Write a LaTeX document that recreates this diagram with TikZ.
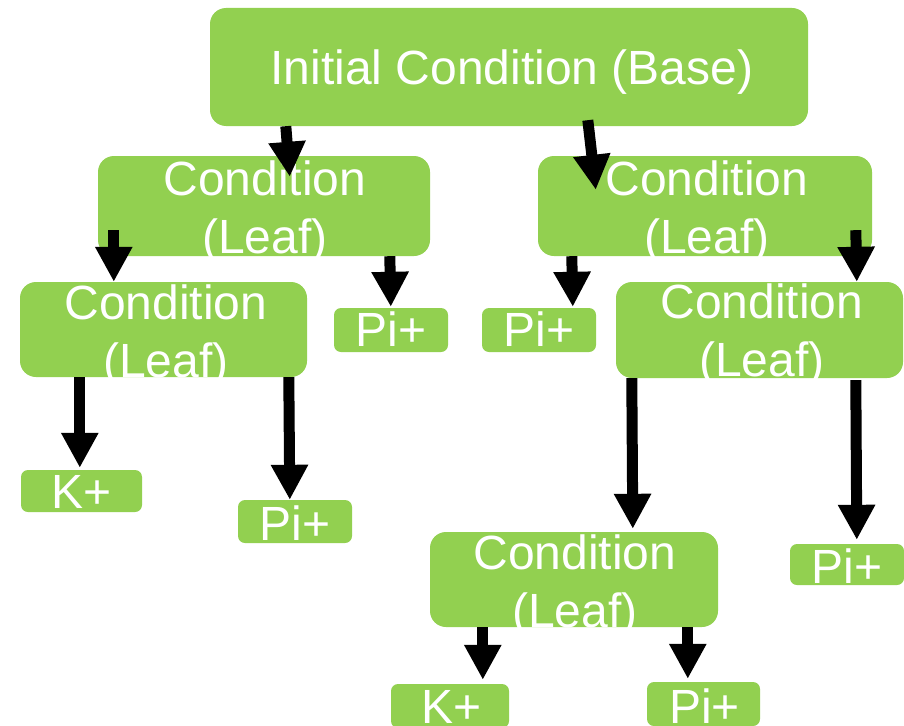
\documentclass[tikz,border=0pt]{standalone}
\usepackage{fontspec}
\setmainfont{Liberation Sans}
\usetikzlibrary{arrows.meta,calc}
\definecolor{leafgreen}{HTML}{92D050}
\begin{document}
\begin{tikzpicture}[x=1pt,y=-1pt,
  bigbox/.style={fill=leafgreen, draw=none, rounded corners=16pt, inner sep=0pt},
  smallbox/.style={fill=leafgreen, draw=none, rounded corners=7pt, inner sep=0pt},
  txt/.style={text=white, inner sep=0pt, anchor=base, font=\fontsize{48}{58}\selectfont},
  arr/.style={line width=11pt, -{Triangle[width=35pt,length=35pt]}, black}]
\useasboundingbox (0,0) rectangle (904,725);
% boxes
\node[bigbox, minimum width=598pt, minimum height=118pt] (base) at (509,67) {};
\node[bigbox, minimum width=332pt, minimum height=100pt] (L1) at (264,206) {};
\node[bigbox, minimum width=334pt, minimum height=100pt] (R1) at (705,206) {};
\node[bigbox, minimum width=287pt, minimum height=95pt] (L2) at (163.5,329.5) {};
\node[bigbox, minimum width=287pt, minimum height=96pt] (R2) at (759.5,330) {};
\node[bigbox, minimum width=288pt, minimum height=95pt] (R3) at (574,579.5) {};
\node[smallbox, minimum width=114pt, minimum height=44pt] (PiA) at (391,330) {};
\node[smallbox, minimum width=114pt, minimum height=44pt] (PiB) at (539,330) {};
\node[smallbox, minimum width=121pt, minimum height=42pt] (K1) at (81.5,491) {};
\node[smallbox, minimum width=114pt, minimum height=43pt] (Pi2) at (295,521.5) {};
\node[smallbox, minimum width=114pt, minimum height=41pt] (PiC) at (847,564.5) {};
\node[smallbox, minimum width=118pt, minimum height=44pt] (K2) at (450,706) {};
\node[smallbox, minimum width=113pt, minimum height=44pt] (Pi3) at (703.5,704) {};
% texts
\node[txt] (baset) at ($(base.north)+(3,77)$) {Initial Condition (Base)};
\node[txt] (L1a) at ($(L1.north)+(1,40)$) {Condition};
\node[txt] (L1b) at ($(L1.north)+(1,98)$) {(Leaf)};
\node[txt] (R1a) at ($(R1.north)+(2,40)$) {Condition};
\node[txt] (R1b) at ($(R1.north)+(2,98)$) {(Leaf)};
\node[txt] (L2a) at ($(L2.north)+(2.5,38)$) {Condition};
\node[txt] (L2b) at ($(L2.north)+(2.5,96)$) {(Leaf)};
\node[txt] (R2a) at ($(R2.north)+(2.5,37)$) {Condition};
\node[txt] (R2b) at ($(R2.north)+(2.5,95)$) {(Leaf)};
\node[txt] (R3a) at ($(R3.north)+(1,38)$) {Condition};
\node[txt] (R3b) at ($(R3.north)+(1,96)$) {(Leaf)};
\node[txt] (PiAt) at ($(PiA.north)+(0,39)$) {Pi+};
\node[txt] (PiBt) at ($(PiB.north)+(0,39)$) {Pi+};
\node[txt] (K1t) at ($(K1.north)+(0,39)$) {K+};
\node[txt] (Pi2t) at ($(Pi2.north)+(0,41)$) {Pi+};
\node[txt] (PiCt) at ($(PiC.north)+(0,40)$) {Pi+};
\node[txt] (K2t) at ($(K2.north)+(2,40)$) {K+};
\node[txt] (Pi3t) at ($(Pi3.north)+(1,42)$) {Pi+};
% arrows
\draw[arr] ($(base.south west)+(76,0)$) -- ($(L1.north west)+(192,21)$);
\draw[arr] ($(base.south west)+(378,-6)$) -- ($(R1.north west)+(58,34)$);
\draw[arr] ($(L1.south west)+(16,-26)$) -- ($(L2.north west)+(94,0)$);
\draw[arr] ($(L1.south west)+(292,0)$) -- ($(PiA.north west)+(57,-1)$);
\draw[arr] ($(R1.south west)+(34,0)$) -- ($(PiB.north west)+(91,-1)$);
\draw[arr] ($(R1.south west)+(318,-26)$) -- ($(R2.north west)+(241,0)$);
\draw[arr] ($(L2.south west)+(60,0)$) -- ($(K1.north west)+(59,-2)$);
\draw[arr] ($(L2.south west)+(269,0)$) -- ($(Pi2.north west)+(52,0)$);
\draw[arr] ($(R2.south west)+(16,0)$) -- ($(R3.north west)+(203,-3)$);
\draw[arr] ($(R2.south west)+(240,2)$) -- ($(PiC.north west)+(67,-4)$);
\draw[arr] ($(R3.south west)+(53,0)$) -- ($(K2.north west)+(92,-4)$);
\draw[arr] ($(R3.south west)+(258,0)$) -- ($(Pi3.north west)+(41,-3)$);
\end{tikzpicture}
\end{document}
